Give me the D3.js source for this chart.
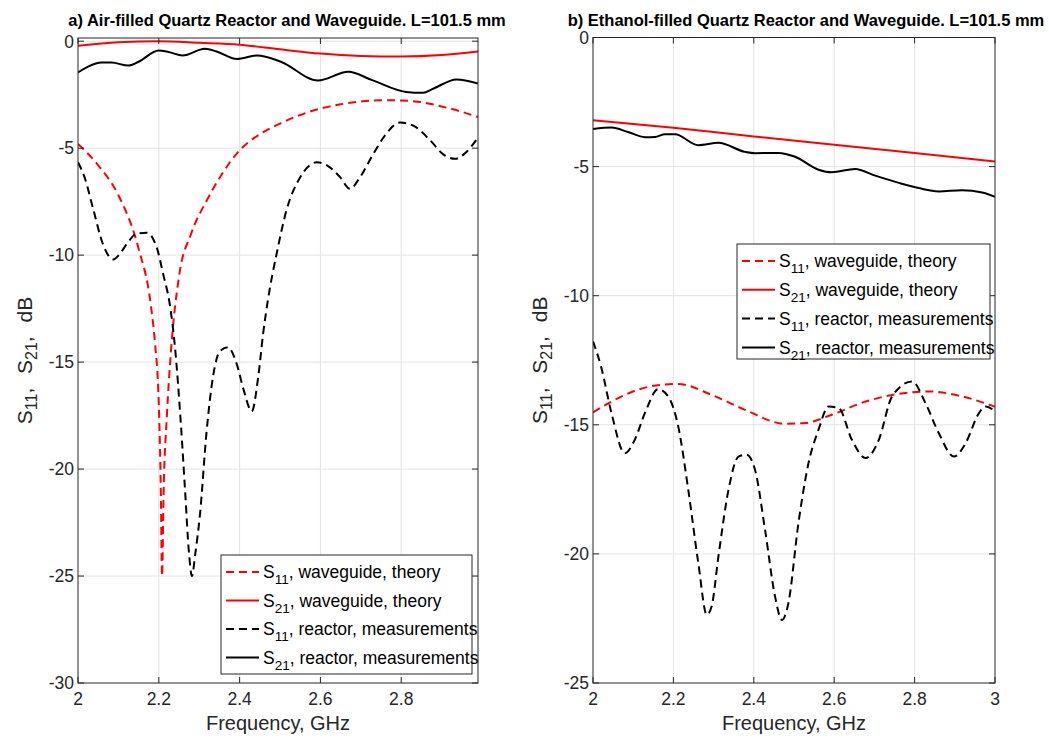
<!DOCTYPE html>
<html>
<head>
<meta charset="utf-8">
<script src="https://cdn.jsdelivr.net/npm/d3@7"></script>
<style>
  body { margin: 0; background: #fff; }
  text { font-family: "Liberation Sans", Arial, Helvetica, sans-serif; }
</style>
</head>
<body>
<svg id="fig" width="1049" height="738"></svg>
<script>
// ---- panel a) air-filled ----
var aS11TheoryF  = [2.0, 2.05, 2.1, 2.15, 2.18, 2.19, 2.2, 2.205, 2.208, 2.212, 2.22, 2.23, 2.25, 2.28, 2.32, 2.36, 2.4, 2.45, 2.5, 2.55, 2.6, 2.65, 2.7, 2.75, 2.8, 2.85, 2.9, 2.95, 2.99];
var aS11TheoryDb = [-4.8, -5.8, -7.2, -9.7, -12.3, -14.0, -17.0, -21.0, -25.0, -21.0, -17.5, -14.5, -11.0, -9.0, -7.4, -6.1, -5.1, -4.35, -3.85, -3.45, -3.15, -2.95, -2.82, -2.76, -2.77, -2.85, -3.05, -3.3, -3.55];

var aS21TheoryF  = [2.0, 2.1, 2.2, 2.3, 2.4, 2.5, 2.6, 2.7, 2.8, 2.9, 2.99];
var aS21TheoryDb = [-0.21, -0.05, 0, -0.07, -0.16, -0.38, -0.58, -0.69, -0.72, -0.65, -0.48];

var aS11MeasF  = [2.0, 2.017, 2.037, 2.062, 2.087, 2.105, 2.12, 2.145, 2.17, 2.195, 2.211, 2.228, 2.24, 2.255, 2.265, 2.275, 2.282, 2.29, 2.302, 2.318, 2.334, 2.351, 2.371, 2.393, 2.41, 2.43, 2.446, 2.458, 2.47, 2.492, 2.516, 2.55, 2.591, 2.616, 2.649, 2.673, 2.698, 2.73, 2.76, 2.797, 2.83, 2.87, 2.905, 2.933, 2.96, 2.99];
var aS11MeasDb = [-5.66, -6.4, -7.8, -9.5, -10.2, -9.9, -9.5, -9.0, -8.95, -9.65, -10.9, -12.4, -14.3, -18.0, -21.0, -24.0, -25.0, -24.0, -22.1, -18.3, -15.7, -14.5, -14.3, -15.1, -16.3, -17.3, -15.7, -13.7, -12.1, -9.9, -7.9, -6.36, -5.66, -5.8, -6.36, -6.9, -6.36, -5.3, -4.4, -3.8, -3.95, -4.6, -5.3, -5.5, -5.2, -4.5];

var aS21MeasF  = [2.0, 2.025, 2.058, 2.083, 2.125, 2.15, 2.2, 2.225, 2.259, 2.314, 2.343, 2.393, 2.443, 2.502, 2.594, 2.669, 2.728, 2.812, 2.854, 2.879, 2.937, 2.99];
var aS21MeasDb = [-1.46, -1.19, -1.0, -1.0, -1.14, -0.96, -0.43, -0.51, -0.67, -0.35, -0.48, -0.83, -0.67, -0.96, -1.84, -1.43, -1.82, -2.37, -2.41, -2.22, -1.79, -1.98];

// ---- panel b) ethanol-filled ----
var bS11TheoryF  = [2.0, 2.046, 2.112, 2.17, 2.212, 2.295, 2.378, 2.478, 2.528, 2.594, 2.678, 2.761, 2.835, 2.918, 3.0];
var bS11TheoryDb = [-14.52, -14.1, -13.64, -13.45, -13.42, -13.84, -14.42, -14.96, -14.93, -14.61, -14.1, -13.8, -13.71, -13.9, -14.3];

var bS21TheoryF  = [2.0, 2.2, 2.4, 2.6, 2.8, 3.0];
var bS21TheoryDb = [-3.2, -3.5, -3.83, -4.15, -4.47, -4.8];

var bS11MeasF  = [2.0, 2.02, 2.046, 2.079, 2.104, 2.129, 2.162, 2.187, 2.212, 2.237, 2.262, 2.283, 2.295, 2.312, 2.337, 2.362, 2.382, 2.403, 2.428, 2.453, 2.47, 2.486, 2.511, 2.536, 2.561, 2.586, 2.611, 2.644, 2.678, 2.711, 2.744, 2.794, 2.827, 2.86, 2.898, 2.927, 2.96, 2.977, 3.0];
var bS11MeasDb = [-11.77, -12.74, -14.55, -16.1, -15.58, -14.55, -13.62, -13.9, -15.06, -17.52, -20.36, -22.36, -22.04, -20.1, -17.52, -16.23, -16.16, -16.74, -19.07, -21.66, -22.56, -21.91, -18.81, -16.49, -15.19, -14.29, -14.35, -15.58, -16.29, -15.58, -13.9, -13.32, -14.16, -15.32, -16.23, -15.71, -14.55, -14.29, -14.48];

var bS21MeasF  = [2.0, 2.046, 2.087, 2.129, 2.154, 2.179, 2.204, 2.262, 2.312, 2.378, 2.403, 2.461, 2.503, 2.561, 2.594, 2.652, 2.702, 2.761, 2.81, 2.86, 2.918, 2.968, 3.0];
var bS21MeasDb = [-3.54, -3.49, -3.66, -3.86, -3.85, -3.75, -3.75, -4.17, -4.08, -4.43, -4.48, -4.47, -4.62, -5.12, -5.22, -5.09, -5.35, -5.63, -5.83, -5.96, -5.92, -6.0, -6.17];

// ticks and labels
var aXTicks = [2, 2.2, 2.4, 2.6, 2.8];
var aYTicks = [-30, -25, -20, -15, -10, -5, 0];
var bXTicks = [2, 2.2, 2.4, 2.6, 2.8, 3];
var bYTicks = [-25, -20, -15, -10, -5, 0];
var legendNames = [
    ["11", "waveguide, theory"],
    ["21", "waveguide, theory"],
    ["11", "reactor, measurements"],
    ["21", "reactor, measurements"]
];

var svg = d3.select("#fig");
var axisColor = "#262626";

function zip(f, v) { return f.map(function (d, i) { return [d, v[i]]; }); }

function drawPanel(cfg) {
    var x = d3.scaleLinear().domain(cfg.xDomain).range([cfg.left, cfg.right]);
    var y = d3.scaleLinear().domain(cfg.yDomain).range([cfg.bottom, cfg.top]);
    var g = svg.append("g");

    // grid
    g.append("g").selectAll("line").data(cfg.xTicks.filter(function (d) { return d > cfg.xDomain[0] && d < cfg.xDomain[1]; }))
        .enter().append("line")
        .attr("x1", function (d) { return x(d); }).attr("x2", function (d) { return x(d); })
        .attr("y1", cfg.top).attr("y2", cfg.bottom)
        .attr("stroke", "#e3e3e3").attr("stroke-width", 1);
    g.append("g").selectAll("line").data(cfg.yTicks.filter(function (d) { return d > cfg.yDomain[0] && d < cfg.yDomain[1]; }))
        .enter().append("line")
        .attr("y1", function (d) { return y(d); }).attr("y2", function (d) { return y(d); })
        .attr("x1", cfg.left).attr("x2", cfg.right)
        .attr("stroke", "#e3e3e3").attr("stroke-width", 1);

    // curves
    var clipId = "clip" + cfg.id;
    svg.append("clipPath").attr("id", clipId).append("rect")
        .attr("x", cfg.left).attr("y", cfg.top)
        .attr("width", cfg.right - cfg.left).attr("height", cfg.bottom - cfg.top);
    var line = d3.line()
        .x(function (d) { return x(d[0]); })
        .y(function (d) { return y(d[1]); })
        .curve(d3.curveMonotoneX);
    var series = [
        { data: zip(cfg.s11tf, cfg.s11tv), color: "#ff0000", dash: "8,5" },
        { data: zip(cfg.s21tf, cfg.s21tv), color: "#ff0000", dash: null },
        { data: zip(cfg.s11mf, cfg.s11mv), color: "#000000", dash: "8,5" },
        { data: zip(cfg.s21mf, cfg.s21mv), color: "#000000", dash: null }
    ];
    g.append("g").attr("clip-path", "url(#" + clipId + ")")
        .selectAll("path").data(series).enter().append("path")
        .attr("d", function (d) { return line(d.data); })
        .attr("fill", "none")
        .attr("stroke", function (d) { return d.color; })
        .attr("stroke-width", 2)
        .attr("stroke-dasharray", function (d) { return d.dash; });

    // box + inward ticks
    g.append("rect").attr("x", cfg.left).attr("y", cfg.top)
        .attr("width", cfg.right - cfg.left).attr("height", cfg.bottom - cfg.top)
        .attr("fill", "none").attr("stroke", axisColor).attr("stroke-width", 1);
    var tl = 6;
    cfg.xTicks.forEach(function (t) {
        g.append("line").attr("x1", x(t)).attr("x2", x(t)).attr("y1", cfg.bottom).attr("y2", cfg.bottom - tl).attr("stroke", axisColor);
        g.append("line").attr("x1", x(t)).attr("x2", x(t)).attr("y1", cfg.top).attr("y2", cfg.top + tl).attr("stroke", axisColor);
    });
    cfg.yTicks.forEach(function (t) {
        g.append("line").attr("y1", y(t)).attr("y2", y(t)).attr("x1", cfg.left).attr("x2", cfg.left + tl).attr("stroke", axisColor);
        g.append("line").attr("y1", y(t)).attr("y2", y(t)).attr("x1", cfg.right).attr("x2", cfg.right - tl).attr("stroke", axisColor);
    });

    // tick labels
    g.append("g").selectAll("text").data(cfg.xTicks).enter().append("text")
        .attr("x", function (d) { return x(d); }).attr("y", cfg.bottom + 22)
        .attr("text-anchor", "middle").attr("font-size", 17.5).attr("fill", axisColor)
        .text(function (d) { return String(d); });
    g.append("g").selectAll("text").data(cfg.yTicks).enter().append("text")
        .attr("x", cfg.left - 4).attr("y", function (d) { return y(d); })
        .attr("dy", "0.36em")
        .attr("text-anchor", "end").attr("font-size", 17.5).attr("fill", axisColor)
        .text(function (d) { return String(d); });

    // axis labels
    g.append("text").attr("x", (cfg.left + cfg.right) / 2).attr("y", 730)
        .attr("text-anchor", "middle").attr("font-size", 20).attr("fill", axisColor)
        .text("Frequency, GHz");
    var yl = g.append("text")
        .attr("transform", "translate(" + cfg.yLabelX + "," + ((cfg.top + cfg.bottom) / 2) + ") rotate(-90)")
        .attr("text-anchor", "middle").attr("font-size", 21).attr("fill", axisColor)
        .attr("word-spacing", 8);
    yl.append("tspan").text("S");
    yl.append("tspan").attr("font-size", 16).attr("dy", 5).text("11");
    yl.append("tspan").attr("dy", -5).text(", S");
    yl.append("tspan").attr("font-size", 16).attr("dy", 5).text("21");
    yl.append("tspan").attr("dy", -5).text(", dB");

    // title
    g.append("text").attr("x", cfg.titleX).attr("y", 26)
        .attr("text-anchor", "middle").attr("font-size", 16.5).attr("font-weight", "bold")
        .attr("fill", "#000").text(cfg.title);

    // legend
    var L = cfg.legend;
    var lg = g.append("g");
    lg.append("rect").attr("x", L.x).attr("y", L.y).attr("width", L.w).attr("height", L.h)
        .attr("fill", "#fff").attr("stroke", axisColor).attr("stroke-width", 1);
    legendNames.forEach(function (nm, i) {
        var ry = L.y + 17 + i * L.step;
        lg.append("line").attr("x1", L.x + 5).attr("x2", L.x + 38).attr("y1", ry).attr("y2", ry)
            .attr("stroke", series[i].color).attr("stroke-width", 2)
            .attr("stroke-dasharray", series[i].dash);
        var t = lg.append("text").attr("x", L.x + 42).attr("y", ry).attr("dy", "0.35em")
            .attr("font-size", 17.5).attr("fill", "#000");
        t.append("tspan").text("S");
        t.append("tspan").attr("font-size", 13.5).attr("dy", 6).text(nm[0]);
        t.append("tspan").attr("dy", -6).text(", " + nm[1]);
    });
}

drawPanel({
    id: "a", left: 78, right: 478, top: 38, bottom: 683,
    xDomain: [2, 2.99], yDomain: [-30, 0.15],
    xTicks: aXTicks, yTicks: aYTicks,
    s11tf: aS11TheoryF, s11tv: aS11TheoryDb, s21tf: aS21TheoryF, s21tv: aS21TheoryDb,
    s11mf: aS11MeasF, s11mv: aS11MeasDb, s21mf: aS21MeasF, s21mv: aS21MeasDb,
    yLabelX: 32, titleX: 287,
    title: "a) Air-filled Quartz Reactor and Waveguide. L=101.5 mm",
    legend: { x: 221, y: 555, w: 251, h: 119, step: 28.5 }
});

drawPanel({
    id: "b", left: 593, right: 995, top: 37.5, bottom: 683,
    xDomain: [2, 3], yDomain: [-25, 0],
    xTicks: bXTicks, yTicks: bYTicks,
    s11tf: bS11TheoryF, s11tv: bS11TheoryDb, s21tf: bS21TheoryF, s21tv: bS21TheoryDb,
    s11mf: bS11MeasF, s11mv: bS11MeasDb, s21mf: bS21MeasF, s21mv: bS21MeasDb,
    yLabelX: 547, titleX: 806,
    title: "b) Ethanol-filled Quartz Reactor and Waveguide. L=101.5 mm",
    legend: { x: 737, y: 244, w: 253, h: 115, step: 28.8 }
});
</script>
</body>
</html>
